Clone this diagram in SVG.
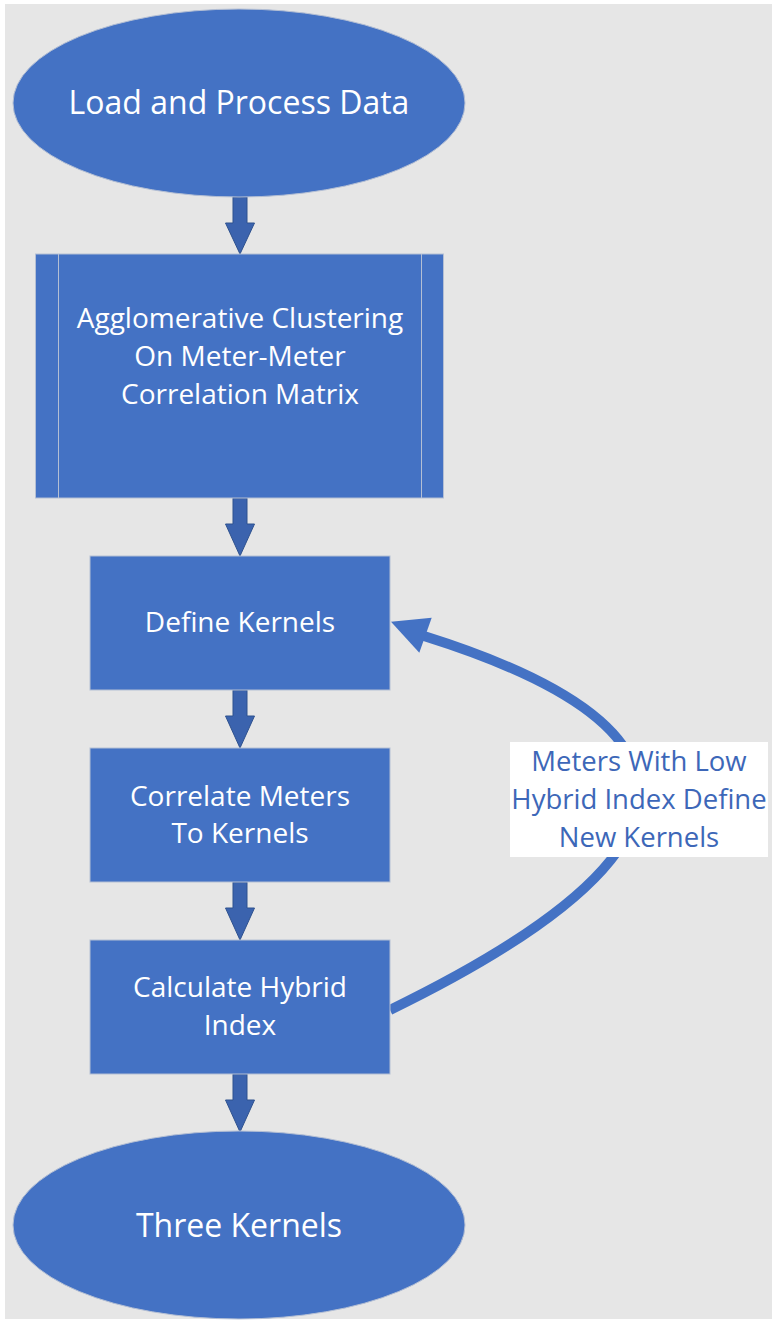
<svg xmlns="http://www.w3.org/2000/svg" width="772" height="1321" viewBox="0 0 772 1321">
<defs>
<style>
.node{fill:#4472c4;stroke:#b4bfd4;stroke-width:1}
.t{font-family:"Open Sans","Noto Sans",sans-serif;fill:#ffffff;text-anchor:middle}
.big{font-size:32px}
.mid{font-size:28px}
.lbl{font-family:"Open Sans","Noto Sans",sans-serif;fill:#3d67b8;text-anchor:middle;font-size:27.5px}
.darr{fill:#3b63ae;stroke:#2f528f;stroke-width:1}
</style>
</defs>
<rect x="0" y="0" width="772" height="1321" fill="#ffffff"/>
<rect x="5" y="4" width="767" height="1315" fill="#e6e6e6"/>
<g id="connectors">
<polygon class="darr" points="233,197 247,197 247,223 254.5,223 240,254 225.5,223 233,223"/>
<polygon class="darr" points="233,498 247,498 247,524 254.5,524 240,556 225.5,524 233,524"/>
<polygon class="darr" points="233,690 247,690 247,716 254.5,716 240,748 225.5,716 233,716"/>
<polygon class="darr" points="233,882 247,882 247,908 254.5,908 240,940 225.5,908 233,908"/>
<polygon class="darr" points="233,1074 247,1074 247,1100 254.5,1100 240,1132 225.5,1100 233,1100"/>
<path d="M390,1010 Q870,776 424,636" fill="none" stroke="#4472c4" stroke-width="10"/>
<polygon points="391,621.7 431.7,617.7 419.3,652.7" fill="#4472c4"/>
</g>
<g id="load">
<ellipse class="node" cx="239" cy="103" rx="226" ry="94"/>
<text class="t big" x="239" y="114">Load and Process Data</text>
</g>
<g id="cluster">
<rect class="node" x="35.5" y="254" width="408" height="244"/>
<line x1="58.5" y1="254" x2="58.5" y2="498" stroke="#b4bfd4" stroke-width="1"/>
<line x1="421.5" y1="254" x2="421.5" y2="498" stroke="#b4bfd4" stroke-width="1"/>
<text class="t mid" x="240" y="328">Agglomerative Clustering</text>
<text class="t mid" x="240" y="366">On Meter-Meter</text>
<text class="t mid" x="240" y="404">Correlation Matrix</text>
</g>
<g id="define">
<rect class="node" x="90" y="556" width="300" height="134"/>
<text class="t mid" x="240" y="632">Define Kernels</text>
</g>
<g id="correlate">
<rect class="node" x="90" y="748" width="300" height="134"/>
<text class="t mid" x="240" y="806">Correlate Meters</text>
<text class="t mid" x="240" y="843">To Kernels</text>
</g>
<g id="calculate">
<rect class="node" x="90" y="940" width="300" height="134"/>
<text class="t mid" x="240" y="997">Calculate Hybrid</text>
<text class="t mid" x="240" y="1035">Index</text>
</g>
<g id="three">
<ellipse class="node" cx="239" cy="1225" rx="226" ry="94"/>
<text class="t big" x="239" y="1237">Three Kernels</text>
</g>
<g id="label">
<rect x="510" y="742" width="258" height="115" fill="#ffffff"/>
<text class="lbl" x="639" y="771">Meters With Low</text>
<text class="lbl" x="639" y="809">Hybrid Index Define</text>
<text class="lbl" x="639" y="847">New Kernels</text>
</g>
</svg>
